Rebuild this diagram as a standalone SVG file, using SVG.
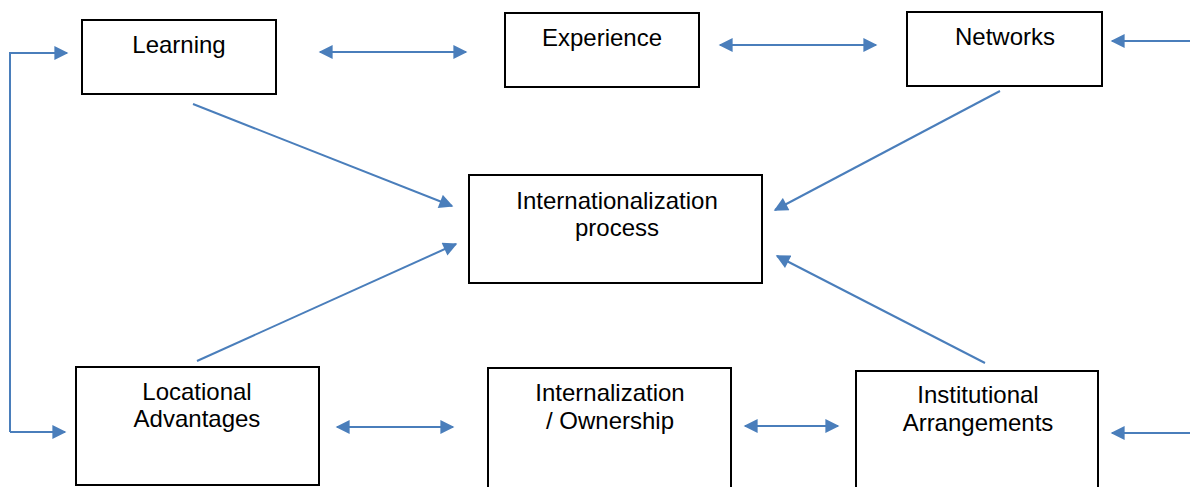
<svg xmlns="http://www.w3.org/2000/svg" width="1190" height="487" viewBox="0 0 1190 487">
<defs>
<marker id="ah" viewBox="0 0 10 10" refX="9" refY="5" markerWidth="15" markerHeight="14" markerUnits="userSpaceOnUse" orient="auto-start-reverse">
<path d="M0,0 L10,5 L0,10 z" fill="#4a7ebb"/>
</marker>
<style>
.box{fill:#fff;stroke:#000;stroke-width:2}
.t{font-family:"Liberation Sans",Arial,sans-serif;font-size:24px;fill:#000;text-anchor:middle}
.c{fill:none;stroke:#4a7ebb;stroke-width:2}
</style>
</defs>
<rect width="1190" height="487" fill="#fff"/>
<g id="learning"><rect class="box" x="82" y="20" width="194" height="74"/><text class="t" x="179" y="53">Learning</text></g>
<g id="experience"><rect class="box" x="505" y="13" width="194" height="74"/><text class="t" x="602" y="46">Experience</text></g>
<g id="networks"><rect class="box" x="907" y="12" width="195" height="74"/><text class="t" x="1005" y="45">Networks</text></g>
<g id="internationalization"><rect class="box" x="469" y="175" width="293" height="108"/><text class="t" x="617" y="209">Internationalization</text><text class="t" x="617" y="236">process</text></g>
<g id="locational"><rect class="box" x="76" y="367" width="243" height="118"/><text class="t" x="197" y="400">Locational</text><text class="t" x="197" y="427">Advantages</text></g>
<g id="internalization"><rect class="box" x="488" y="368" width="243" height="125"/><text class="t" x="610" y="401">Internalization</text><text class="t" x="610" y="429">/ Ownership</text></g>
<g id="institutional"><rect class="box" x="856" y="371" width="242" height="125"/><text class="t" x="978" y="403">Institutional</text><text class="t" x="978" y="431">Arrangements</text></g>
<g id="connectors">
<line class="c" x1="320" y1="52" x2="466" y2="52" marker-start="url(#ah)" marker-end="url(#ah)"/>
<line class="c" x1="720" y1="45" x2="876" y2="45" marker-start="url(#ah)" marker-end="url(#ah)"/>
<line class="c" x1="1190" y1="41" x2="1112" y2="41" marker-end="url(#ah)"/>
<line class="c" x1="337" y1="427" x2="453" y2="427" marker-start="url(#ah)" marker-end="url(#ah)"/>
<line class="c" x1="745" y1="426" x2="838" y2="426" marker-start="url(#ah)" marker-end="url(#ah)"/>
<line class="c" x1="1190" y1="433" x2="1112" y2="433" marker-end="url(#ah)"/>
<polyline class="c" points="10,432 10,53 67,53" marker-end="url(#ah)"/>
<line class="c" x1="10" y1="432" x2="65" y2="432" marker-end="url(#ah)"/>
<line class="c" x1="193" y1="104" x2="452" y2="206" marker-end="url(#ah)"/>
<line class="c" x1="1000" y1="91" x2="775" y2="210" marker-end="url(#ah)"/>
<line class="c" x1="197" y1="361" x2="456" y2="244" marker-end="url(#ah)"/>
<line class="c" x1="985" y1="363" x2="777" y2="256" marker-end="url(#ah)"/>
</g>
</svg>
